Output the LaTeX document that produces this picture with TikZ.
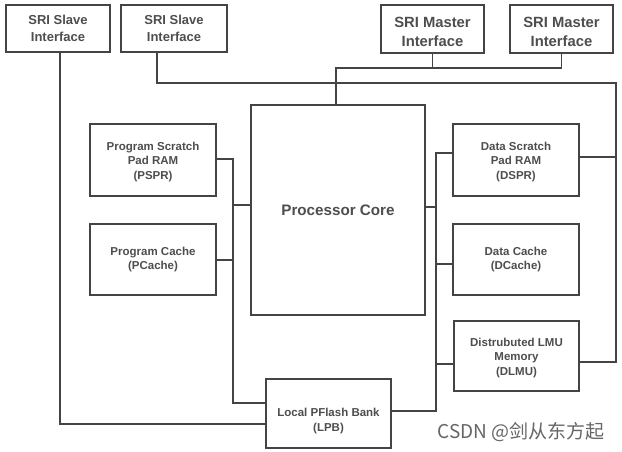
\documentclass[tikz,border=0pt]{standalone}
\usepackage{fontspec}
\setmainfont{Liberation Sans}
\newfontfamily\cjkwm{Noto Sans CJK SC}
\usetikzlibrary{calc}
\definecolor{linec}{HTML}{444444}
\definecolor{textc}{HTML}{4E4E4E}
\begin{document}
\begin{tikzpicture}[x=1pt,y=-1pt,
  box/.style={draw=linec, line width=1.8pt, rectangle, inner sep=0pt, align=center,
    text=textc, font=\bfseries\fontsize{11.5}{14.8}\selectfont},
  slavebox/.style={box, font=\bfseries\fontsize{13}{16.5}\selectfont},
  masterbox/.style={box},
  mastertext/.style={inner sep=0pt, align=center, text=textc, font=\bfseries\fontsize{14.8}{19.5}\selectfont},
  corebox/.style={box, font=\bfseries\fontsize{15.2}{18}\selectfont},
  wire/.style={draw=linec, line width=1.8pt}]
\useasboundingbox[fill=white] (0,0) rectangle (622,451);

\node[slavebox, minimum width=104pt, minimum height=47pt] (s1) at (58,28.5) {SRI Slave\\Interface};
\node[slavebox, minimum width=106pt, minimum height=47pt] (s2) at (174,28.5) {SRI Slave\\Interface};
\node[masterbox, minimum width=103pt, minimum height=48pt] (m1) at (432.5,29) {};
\node[mastertext] (m1t) at ($(m1)+(0,3)$) {SRI Master\\Interface};
\node[masterbox, minimum width=103pt, minimum height=48pt] (m2) at (561.5,29) {};
\node[mastertext] (m2t) at ($(m2)+(0,3)$) {SRI Master\\Interface};
\node[corebox, minimum width=174pt, minimum height=210pt] (core) at (338,210) {Processor Core};
\node[box, minimum width=126pt, minimum height=72pt] (pspr) at (153,160) {\strut\\[-13pt]Program Scratch\\Pad RAM\\(PSPR)};
\node[box, minimum width=126pt, minimum height=71pt] (pcache) at (153,259.5) {Program Cache\\(PCache)};
\node[box, minimum width=126pt, minimum height=72pt] (dspr) at (516,160) {\strut\\[-13pt]Data Scratch\\Pad RAM\\(DSPR)};
\node[box, minimum width=126pt, minimum height=71pt] (dcache) at (516,259.5) {Data Cache\\(DCache)};
\node[box, minimum width=125pt, minimum height=70pt] (dlmu) at (516.5,356) {\strut\\[-13pt]Distrubuted LMU\\Memory\\(DLMU)};
\node[box, minimum width=125pt, minimum height=69pt] (lpb) at (328.5,413.5) {\strut\\[-1pt]Local PFlash Bank\\(LPB)};

% junction coordinates
\coordinate (mj) at (336,68);
\coordinate (s1c) at (60,424);
\coordinate (s2a) at (157,83);
\coordinate (s2b) at (616,83);
\coordinate (s2c) at (616,362);
\coordinate (lbt) at (233,159);
\coordinate (lbb) at (233,403);
\coordinate (rbt) at (436,153);
\coordinate (rbb) at (436,411);

% master interfaces to core
\draw[wire] (m2.south) |- (mj) -- (mj |- core.north);
\draw[wire] (m1.south) -- (m1.south |- mj);

% slave interface 1 to LPB
\draw[wire] (s1.south -| s1c) -- (s1c) -- (lpb.west |- s1c);

% slave interface 2 to DSPR / DLMU
\draw[wire] (s2.south -| s2a) -- (s2a) -- (s2b) -- (s2c) -- (dlmu.east |- s2c);
\draw[wire] (dspr.east |- 0,157) -- (s2c |- 0,157);

% left bus
\draw[wire] (pspr.east |- lbt) -- (lbt) -- (lbb) -- (lpb.west |- lbb);
\draw[wire] (pcache.east |- 0,260) -- (lbt |- 0,260);
\draw[wire] (core.west |- 0,205) -- (lbt |- 0,205);

% right bus
\draw[wire] (dspr.west |- rbt) -- (rbt) -- (rbb) -- (lpb.east |- rbb);
\draw[wire] (core.east |- 0,207) -- (rbt |- 0,207);
\draw[wire] (dcache.west |- 0,264) -- (rbt |- 0,264);
\draw[wire] (dlmu.west |- 0,364) -- (rbt |- 0,364);

% watermark
\node[text=black!60, font=\cjkwm\fontsize{19}{21}\selectfont, anchor=center] (wm) at (521,432) {CSDN @剑从东方起};
\end{tikzpicture}
\end{document}
